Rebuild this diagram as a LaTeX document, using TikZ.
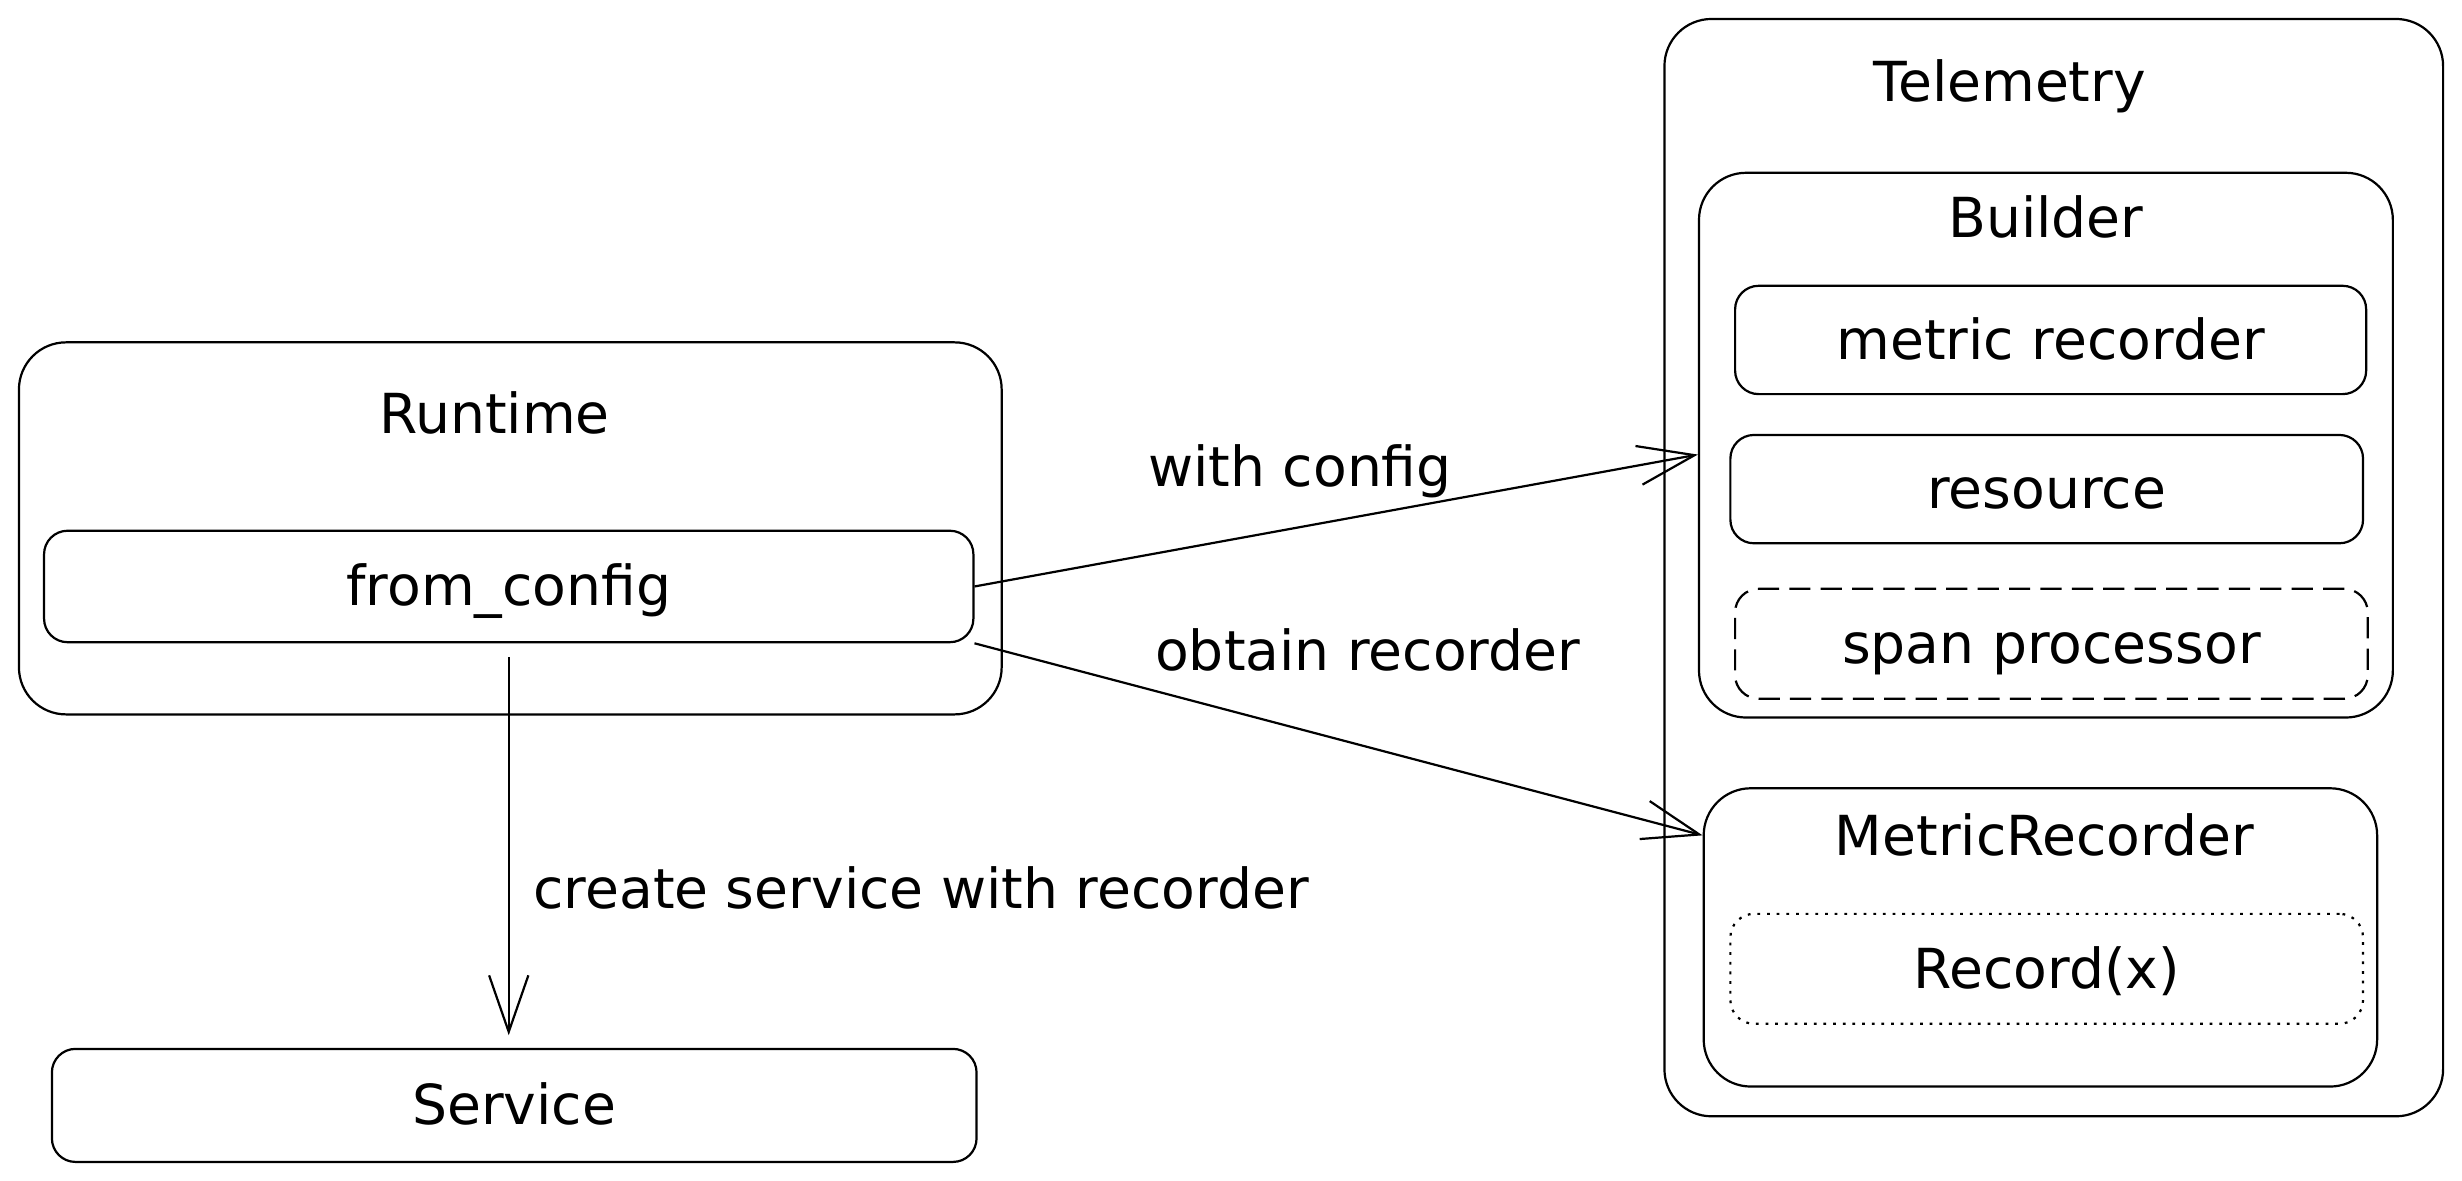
\documentclass[tikz,border=0pt]{standalone}
\usepackage{fontspec}
\setmainfont{DejaVu Sans}
\usetikzlibrary{positioning}
\usetikzlibrary{calc}
\usetikzlibrary{arrows.meta}

\begin{document}
\begin{tikzpicture}[x=0.02cm, y=-0.02cm,
		txt/.style={font=\fontsize{20}{24}\selectfont, inner sep=0pt},
		box/.style={txt, draw, line width=0.8pt, rounded corners=0.3cm, text height=17pt, text depth=3pt},
		bigbox/.style={box, rounded corners=0.6cm},
		arr/.style={line width=0.8pt, -{Straight Barb[length=0.72cm, width=0.5cm]}}]
					\useasboundingbox (0,0) rectangle (1568,752);

					% left side
					\node [bigbox, minimum width=12.52cm, minimum height=4.74cm] (runtime) at (325,336.5) {};
					\node [txt] (runtimetitle) at (315,263) {Runtime};
					\node [box, minimum width=11.84cm, minimum height=1.42cm] (fromcfg) at (324,373.5) {from\_config};
					\node [box, minimum width=11.78cm, minimum height=1.44cm] (service) at (327.5,704) {Service};

					% right side
					\node [bigbox, minimum width=9.92cm, minimum height=13.98cm] (telemetry) at (1308,361.5) {};
					\node [txt] (telemetrytitle) at (1280,55) {Telemetry};
					\node [bigbox, minimum width=8.84cm, minimum height=6.94cm] (builder) at (1303,283.5) {};
					\node [txt] (buildertitle) at (1303,138) {Builder};
					\node [box, minimum width=8.04cm, minimum height=1.38cm] (metricrec) at (1306,216.5) {metric recorder};
					\node [box, minimum width=8.06cm, minimum height=1.38cm] (resource) at (1303.5,311.5) {resource};
					\node [box, dash pattern=on 0.27cm off 0.13cm, minimum width=8.06cm, minimum height=1.4cm] (spanproc) at (1306.5,410) {span processor};
					\node [bigbox, minimum width=8.58cm, minimum height=3.8cm] (recorder) at (1299.5,597) {};
					\node [txt] (recordertitle) at (1302,532) {MetricRecorder};
					\node [box, dash pattern=on 1pt off 2.5pt, minimum width=8.06cm, minimum height=1.4cm] (record) at (1303.5,617) {Record(x)};

					% connectors
					\draw [arr] (fromcfg.east) -- ([yshift=-0.12cm]builder.west)
						node (withcfg) [txt, pos=0.45, above=0.36cm] {with config};
					\draw [arr] (fromcfg.south east) -- (recorder.west |- recordertitle.center)
						node (obtain) [txt, pos=0.54, above=0.95cm] {obtain recorder};
					\draw [arr] ([yshift=-0.18cm]fromcfg.south) -- ([yshift=0.16cm]fromcfg.south |- service.north)
						node (create) [txt, pos=0.61, right=0.3cm] {create service with recorder};
				\end{tikzpicture}
\end{document}
